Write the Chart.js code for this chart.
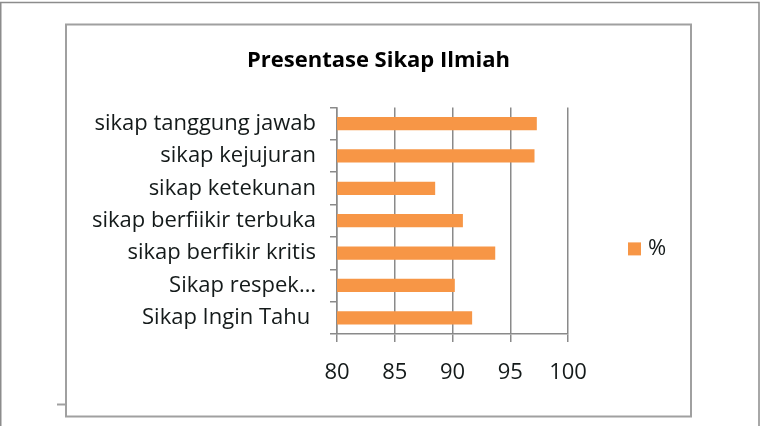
<!DOCTYPE html>
<html>
<head>
<meta charset="utf-8">
<script src="https://cdn.jsdelivr.net/npm/chart.js@4.4.1/dist/chart.umd.min.js"></script>
<style>
  html, body { margin: 0; padding: 0; background: #fff; }
  #wrap { width: 761px; height: 426px; }
</style>
</head>
<body>
<div id="wrap"><canvas id="c" width="761" height="426"></canvas></div>
<script>
// ---- data ----
const chartTitle = 'Presentase Sikap Ilmiah';
const categories = [
  'sikap tanggung jawab',
  'sikap kejujuran',
  'sikap ketekunan',
  'sikap berfiikir terbuka',
  'sikap berfikir kritis',
  'Sikap respek…',
  'Sikap Ingin Tahu '
];
const seriesName = '%';
const seriesValues = [97.3, 97.1, 88.5, 90.9, 93.7, 90.2, 91.7];
const xTicks = [80, 85, 90, 95, 100];

// ---- styles ----
const FONT = '"Open Sans", "Noto Sans", sans-serif';
const TEXT = '#141a1a';
const GRID = '#8a8a8a';
const BAR = '#F79646';

const framePlugin = {
  id: 'frames',
  beforeDraw(chart) {
    const ctx = chart.ctx;
    ctx.save();
    ctx.fillStyle = '#fff';
    ctx.fillRect(0, 0, chart.width, chart.height);
    // outer page frame
    ctx.strokeStyle = '#8c8c8c';
    ctx.lineWidth = 1.5;
    ctx.beginPath();
    ctx.moveTo(0.75, 426); ctx.lineTo(0.75, 2.5); ctx.lineTo(759, 2.5); ctx.lineTo(759, 426);
    ctx.stroke();
    // inner chart frame
    ctx.strokeStyle = '#a0a0a0';
    ctx.lineWidth = 2;
    ctx.strokeRect(66, 24.5, 625, 392);
    // small tick
    ctx.beginPath();
    ctx.moveTo(57, 404.5); ctx.lineTo(66, 404.5);
    ctx.stroke();
    ctx.restore();
  }
};

const legendPlugin = {
  id: 'sideLegend',
  afterDraw(chart) {
    const ctx = chart.ctx;
    const ca = chart.chartArea;
    const ds = chart.data.datasets[0];
    ctx.save();
    ctx.fillStyle = ds.backgroundColor;
    ctx.fillRect(ca.right + 60, ca.top + 135, 13, 13);
    ctx.fillStyle = TEXT;
    ctx.font = '22px ' + FONT;
    ctx.textBaseline = 'middle';
    ctx.textAlign = 'left';
    ctx.fillText(ds.label, ca.right + 80, ca.top + 141);
    ctx.restore();
  }
};

new Chart(document.getElementById('c'), {
  type: 'bar',
  data: {
    labels: categories,
    datasets: [{
      label: seriesName,
      data: seriesValues,
      backgroundColor: BAR,
      borderWidth: 0,
      barPercentage: 0.41,
      categoryPercentage: 1.0
    }]
  },
  options: {
    indexAxis: 'y',
    responsive: false,
    devicePixelRatio: 1,
    animation: false,
    layout: { padding: { left: 66, right: 70, top: 24, bottom: 40 } },
    plugins: {
      legend: { display: false },
      tooltip: { enabled: false },
      title: {
        display: true,
        text: chartTitle,
        color: '#000',
        font: { family: FONT, size: 22, weight: 'bold' },
        padding: { top: 24, bottom: 33 }
      }
    },
    scales: {
      x: {
        type: 'linear',
        position: 'bottom',
        min: xTicks[0],
        max: xTicks[xTicks.length - 1],
        ticks: {
          stepSize: xTicks[1] - xTicks[0],
          color: TEXT,
          font: { family: FONT, size: 22 },
          padding: 18
        },
        grid: { color: GRID, lineWidth: 1.5, tickLength: 8, drawTicks: true },
        border: { display: true, color: GRID, width: 1.5 },
        afterFit(s) { s.height = 52; }
      },
      y: {
        type: 'category',
        position: 'left',
        ticks: {
          color: TEXT,
          font: { family: FONT, size: 22 },
          padding: 14,
          autoSkip: false
        },
        grid: { color: GRID, lineWidth: 1.5, drawOnChartArea: false, tickLength: 7, offset: true },
        border: { display: true, color: GRID, width: 1.5 },
        afterFit(s) { s.width = 271; }
      },
      yPad: {
        type: 'linear',
        position: 'right',
        display: true,
        ticks: { display: false },
        grid: { display: false },
        border: { display: false },
        afterFit(s) { s.width = 123; }
      }
    }
  },
  plugins: [framePlugin, legendPlugin]
});
</script>
</body>
</html>
